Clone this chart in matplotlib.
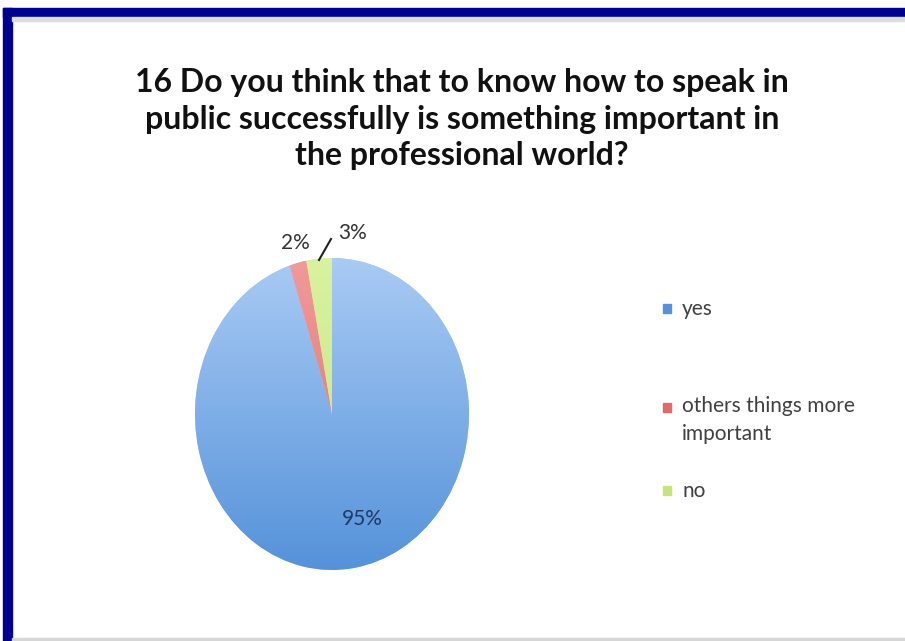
import numpy as np
import matplotlib
matplotlib.use("Agg")
import matplotlib.pyplot as plt
from matplotlib.patches import Rectangle
from matplotlib.colors import to_rgb

# data
categories = ["yes", "others things more\nimportant", "no"]
values = [95, 2, 3]
colors_top = ["#a9cbf4", "#f09a9a", "#d8f2a0"]
colors_bottom = ["#5592da", "#e06a6a", "#c4e47c"]

W, H = 905, 641
fig = plt.figure(figsize=(W / 100, H / 100), dpi=100)
fig.patch.set_facecolor("white")


def fx(px):
    return px / W


def fy(py):
    return 1 - py / H


# frame: navy top/left border, faint grey shadow
fig.patches.append(Rectangle((fx(3), fy(641)), fx(9), fy(8) - fy(641),
                             transform=fig.transFigure, color="#000091", zorder=0))
fig.patches.append(Rectangle((fx(3), fy(17)), fx(902), fy(8) - fy(17),
                             transform=fig.transFigure, color="#000091", zorder=0))
fig.patches.append(Rectangle((fx(12), fy(21)), fx(893), fy(17) - fy(21),
                             transform=fig.transFigure, color="#dcdcdc", zorder=0))
fig.patches.append(Rectangle((fx(12), fy(641)), fx(893), fy(638) - fy(641),
                             transform=fig.transFigure, color="#d6d6d6", zorder=0))

title = ("16 Do you think that to know how to speak in\n"
         "public successfully is something important in\n"
         "the professional world?")
fig.text(fx(462), fy(119), title, ha="center", va="center", fontsize=23,
         family="Lato", weight="bold", color="#111111", linespacing=1.33)

# pie (slightly stretched vertically, as in the source)
cx, cy, rx, ry = 332, 414, 137, 156
ax = fig.add_axes([fx(cx - rx), fy(cy + ry), 2 * rx / W, 2 * ry / H])
wedges, _ = ax.pie(values, colors=colors_top, startangle=90, counterclock=False,
                   radius=1, wedgeprops=dict(linewidth=0))
ax.set_xlim(-1, 1)
ax.set_ylim(-1, 1)
ax.set_aspect("auto")
ax.axis("off")

for w, ct, cb in zip(wedges, colors_top, colors_bottom):
    t = np.linspace(0, 1, 256)[:, None]
    grad = (1 - t) * np.array(to_rgb(ct)) + t * np.array(to_rgb(cb))
    img = ax.imshow(grad[:, None, :].repeat(2, axis=1), extent=(-1, 1, -1, 1),
                    aspect="auto", origin="upper", zorder=2)
    img.set_clip_path(w)


def dx(px):
    return (px - cx) / rx


def dy(py):
    return (cy - py) / ry


pct = [f"{v}%" for v in values]
ax.text(dx(362), dy(519), pct[0], ha="center", va="center", fontsize=15,
        family="Lato", color="#1e3a66", zorder=5)
ax.text(dx(295), dy(243), pct[1], ha="center", va="center", fontsize=15,
        family="Lato", color="#333333", zorder=5, clip_on=False)
ax.text(dx(353), dy(233), pct[2], ha="center", va="center", fontsize=15,
        family="Lato", color="#333333", zorder=5, clip_on=False)
ax.plot([dx(319), dx(331)], [dy(260), dy(239)], color="#222222", lw=1.5,
        clip_on=False, zorder=5)

# legend
legend_rows = [309, 408, 491]
for lab, ct, cb, row in zip(categories, colors_top, colors_bottom, legend_rows):
    fig.patches.append(Rectangle((fx(663), fy(row + 4)), fx(8), fy(row - 5) - fy(row + 4),
                                 transform=fig.transFigure, color=cb, zorder=3))
    fig.text(fx(682), fy(row - 12) if "\n" in lab else fy(row), lab, ha="left",
             va="top" if "\n" in lab else "center",
             fontsize=15, family="Lato", color="#404040", linespacing=1.5)

fig.savefig("out.png", dpi=100)
